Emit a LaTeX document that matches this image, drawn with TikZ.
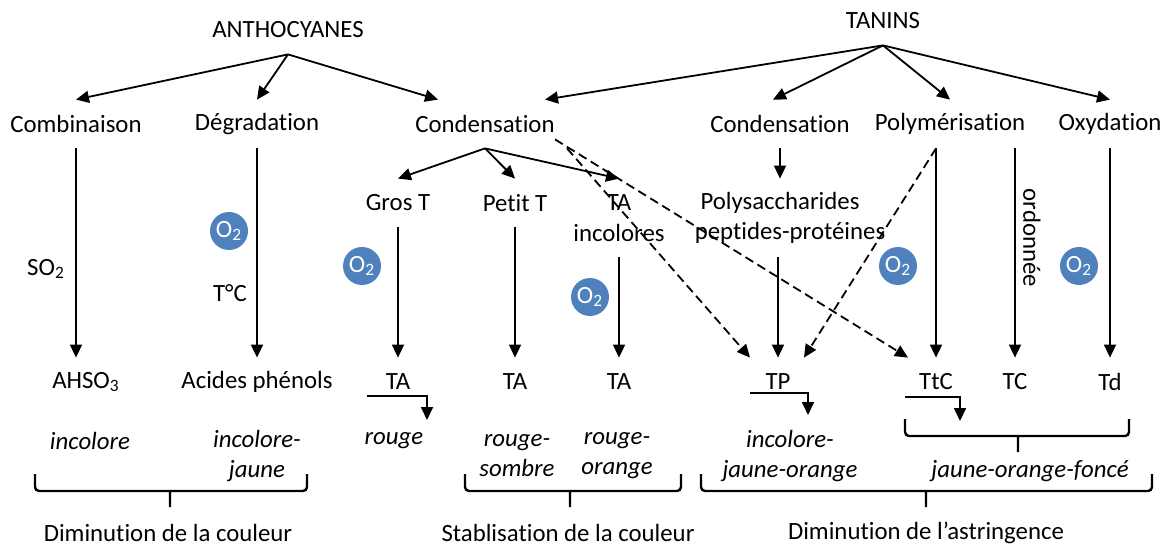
\documentclass[tikz,border=0pt]{standalone}
\usepackage{fontspec}
\setmainfont[Ligatures=NoCommon]{Carlito}
\usepackage{tikz}
\usetikzlibrary{arrows.meta,calc}
\definecolor{oxblue}{RGB}{79,129,189}

\begin{document}
\begin{tikzpicture}[x=0.5pt,y=-0.5pt,
   font=\fontsize{12.4}{15}\selectfont,
   lbl/.style={inner sep=0pt,minimum height=24pt},
   col/.style={inner sep=0pt,align=center,font=\fontsize{12.4}{15}\selectfont\itshape},
   to/.style={-{Triangle[length=6.5pt,width=6pt]},line width=0.9pt},
   dto/.style={to,dash pattern=on 4.5pt off 2.5pt},
   ox/.style={circle,fill=oxblue,text=white,inner sep=0pt,minimum size=19pt},
   brace/.style={line width=1.2pt,rounded corners=2pt}]
\useasboundingbox (0,0) rectangle (1170,549);
\node[lbl] (antho) at (288,30) {ANTHOCYANES};
\node[lbl] (tanins) at (883,21) {TANINS};
\node[lbl] (comb) at (76,124) {Combinaison};
\node[lbl] (degr) at (257,124) {Dégradation};
\node[lbl] (condA) at (485,124) {Condensation};
\node[lbl] (condT) at (780,124) {Condensation};
\node[lbl] (polym) at (950,124) {Polymérisation};
\node[lbl] (oxyd) at (1110,124) {Oxydation};
\node[lbl] (grosT) at (398,203) {Gros T};
\node[lbl] (petitT) at (515,203) {Petit T};
\node[lbl] (taInc) at (619,203) {TA};
\node[lbl] (incol) at (619,233) {incolores};
\node[lbl] (polys) at (780,203) {Polysaccharides};
\node[lbl] (pept) at (790,233) {peptides-protéines};
\node[lbl] (ahso) at (86,382) {AHSO\textsubscript{3}};
\node[lbl] (acph) at (257,382) {Acides phénols};
\node[lbl] (ta1) at (398,382) {TA};
\node[lbl] (ta2) at (515,382) {TA};
\node[lbl] (ta3) at (619,382) {TA};
\node[lbl] (tp) at (778,382) {TP};
\node[lbl] (ttc) at (936,382) {TtC};
\node[lbl] (tcn) at (1015,382) {TC};
\node[lbl] (td) at (1110,382) {Td};
\node (so2) at (46,269) {SO\textsubscript{2}};
\node (temp) at (230,293) {T°C};
\node[rotate=-90] (ord) at (1032,238) {ordonnée};
\node[ox] (ox1) at (229,231) {O\textsubscript{2}};
\node[ox] (ox2) at (362,266) {O\textsubscript{2}};
\node[ox] (ox3) at (590,297) {O\textsubscript{2}};
\node[ox] (ox4) at (898,266) {O\textsubscript{2}};
\node[ox] (ox5) at (1079,266) {O\textsubscript{2}};
\node[col] (c1) at (90,441) {incolore};
\node[col] (c2) at (257,456) {incolore-\\jaune};
\node[col] (c3) at (394,441) {rouge};
\node[col] (c4) at (517,456) {rouge-\\sombre};
\node[col] (c5) at (617,456) {rouge-\\orange};
\node[col] (c6) at (790,456) {incolore-\\jaune-orange};
\node[col] (c7) at (1030,471) {jaune-orange-foncé};
\node (res1) at (168,533) {Diminution de la couleur};
\node (res2) at (568,533) {Stablisation de la couleur};
\node (res3) at (926,533) {Diminution de l’astringence};
\draw[to] (antho.south) -- (comb.north);
\draw[to] (antho.south) -- (degr.north);
\draw[to] (antho.south) -- ($(condA.north)+(-47,0)$);
\draw[to] (tanins.south) -- ($(condA.north)+(60,0)$);
\draw[to] (tanins.south) -- ($(condT.north)+(-7,0)$);
\draw[to] (tanins.south) -- (polym.north);
\draw[to] (tanins.south) -- (oxyd.north);
\draw[to] (comb.south) -- (comb.south |- ahso.north);
\draw[to] (degr.south) -- (acph.north);
\draw[to] (condA.south) -- (grosT.north);
\draw[to] (condA.south) -- (petitT.north);
\draw[to] (condA.south) -- (taInc.north);
\draw[to] (grosT.south) -- (ta1.north);
\draw[to] (petitT.south) -- (ta2.north);
\draw[to] (incol.south) -- (ta3.north);
\draw[to] (condT.south) -- (polys.north);
\draw[to] (pept.south -| tp.north) -- (tp.north);
\draw[to] (polym.south -| ttc.north) -- (ttc.north);
\draw[to] (polym.south -| tcn.north) -- (tcn.north);
\draw[to] (oxyd.south) -- (td.north);
\draw[dto] ($(condA.south east)+(12,0)$) -- ($(tp.north)+(-28,0)$);
\draw[dto] ($(condA.south east)+(0,-9)$) -- ($(ttc.north)+(-28,0)$);
\draw[dto] (polym.south -| ttc.north) -- ($(tp.north)+(26,0)$);
\draw[to] ($(ta1)+(-31,14)$) -| ++(60,24);
\draw[to] ($(tp)+(-28,11)$) -| ++(58,22);
\draw[to] ($(ttc)+(-31,15)$) -| ++(55,24);
\draw[brace] (35,474) |- (307,491) -- (307,474) (170,491) -- (170,507);
\draw[brace] (465,474) |- (681,491) -- (681,474) (570,491) -- (570,507);
\draw[brace] (701,474) |- (1152,491) -- (1152,474) (926,491) -- (926,507);
\draw[brace] (905,419) |- (1129,436) -- (1129,419) (1018,436) -- (1018,452);
\end{tikzpicture}
\end{document}
